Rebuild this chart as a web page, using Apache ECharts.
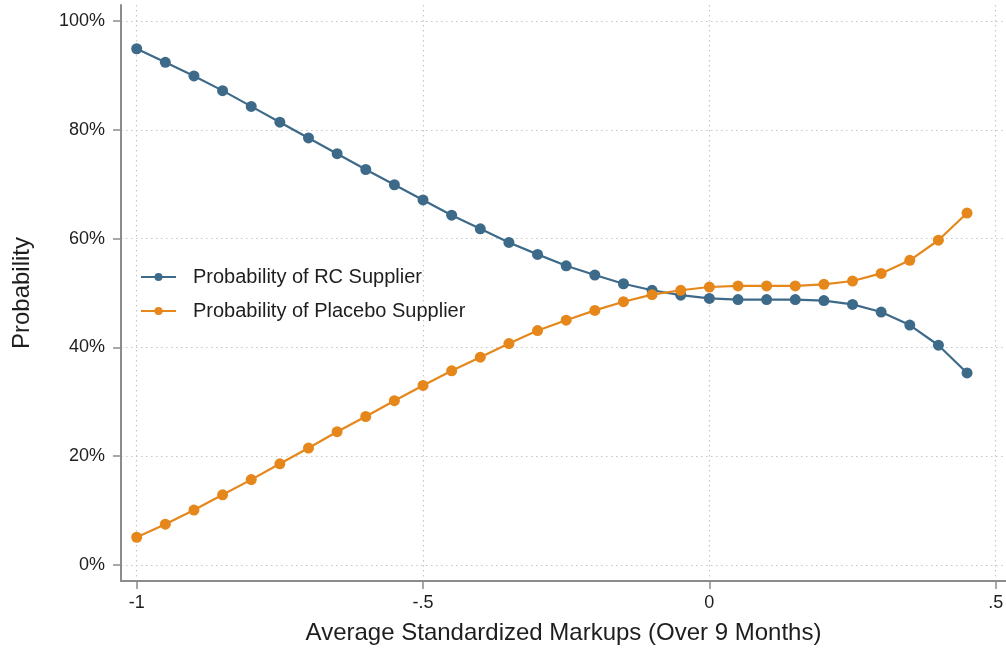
<!DOCTYPE html>
<html>
<head>
<meta charset="utf-8">
<script src="https://cdn.jsdelivr.net/npm/echarts@6/dist/echarts.min.js"></script>
<style>
html,body{margin:0;padding:0;background:#fff;}
#chart{width:1006px;height:656px;}
</style>
</head>
<body>
<div id="chart"></div>
<script>
// x values: average standardized markups
var xValues = [-1, -0.95, -0.9, -0.85, -0.8, -0.75, -0.7, -0.65, -0.6, -0.55,
               -0.5, -0.45, -0.4, -0.35, -0.3, -0.25, -0.2, -0.15, -0.1, -0.05,
               0, 0.05, 0.1, 0.15, 0.2, 0.25, 0.3, 0.35, 0.4, 0.45];
// Probability of RC Supplier (%)
var rcValues = [94.9, 92.4, 89.9, 87.2, 84.3, 81.4, 78.5, 75.6, 72.7, 69.9,
                67.1, 64.3, 61.8, 59.3, 57.1, 55.0, 53.3, 51.7, 50.5, 49.6,
                49.0, 48.8, 48.8, 48.8, 48.6, 47.9, 46.5, 44.1, 40.4, 35.3];
// Probability of Placebo Supplier (%)
var placeboValues = [5.1, 7.5, 10.1, 12.9, 15.7, 18.6, 21.5, 24.5, 27.3, 30.2,
                     33.0, 35.7, 38.2, 40.7, 43.1, 45.0, 46.8, 48.4, 49.7, 50.5,
                     51.1, 51.3, 51.3, 51.3, 51.6, 52.2, 53.6, 56.0, 59.7, 64.7];
var seriesNames = ['Probability of RC Supplier', 'Probability of Placebo Supplier'];
var xTickValues = [-1, -0.5, 0, 0.5];
var xTickLabels = ['-1', '-.5', '0', '.5'];
var yTickValues = [0, 20, 40, 60, 80, 100];
var yTickLabels = ['0%', '20%', '40%', '60%', '80%', '100%'];

function pairs(xs, ys) { return xs.map(function (x, i) { return [x, ys[i]]; }); }
function lookup(vals, labels) {
  return function (v) {
    for (var i = 0; i < vals.length; i++) { if (Math.abs(vals[i] - v) < 1e-6) return labels[i]; }
    return '';
  };
}

var FONT = '"Liberation Sans", Arial, Helvetica, sans-serif';
var TEXT = '#1e1e1e';
var chart = echarts.init(document.getElementById('chart'), null, {renderer: 'canvas'});
chart.setOption({
  animation: false,
  backgroundColor: '#ffffff',
  textStyle: {fontFamily: FONT},
  grid: {left: 121, right: 0, top: 5, bottom: 75, containLabel: false, outerBoundsMode: 'none'},
  legend: {
    orient: 'vertical',
    left: 140,
    top: 267,
    padding: 0,
    itemWidth: 35,
    itemHeight: 10,
    itemGap: 14,
    data: seriesNames,
    textStyle: {fontFamily: FONT, fontSize: 20, color: TEXT, padding: [0, 0, 0, 12], lineHeight: 20}
  },
  xAxis: {
    type: 'value',
    min: -1.0274,
    max: 0.518,
    name: 'Average Standardized Markups (Over 9 Months)',
    nameLocation: 'middle',
    nameGap: 40,
    nameTextStyle: {fontFamily: FONT, fontSize: 24, color: TEXT},
    axisLine: {show: true, onZero: false, lineStyle: {color: '#8c8c8c', width: 2}},
    axisTick: {show: true, length: 8, customValues: xTickValues, lineStyle: {color: '#8c8c8c', width: 1.5}},
    axisLabel: {customValues: xTickValues, formatter: lookup(xTickValues, xTickLabels), fontFamily: FONT, fontSize: 18, color: TEXT, margin: 13, showMinLabel: true, showMaxLabel: true},
    splitLine: {show: true, lineStyle: {color: '#c6c6c6', type: [1.5, 3.5], width: 1.2}}
  },
  yAxis: {
    type: 'value',
    min: -2.94,
    max: 102.94,
    name: 'Probability',
    nameLocation: 'middle',
    nameGap: 87,
    nameTextStyle: {fontFamily: FONT, fontSize: 24, color: TEXT},
    axisLine: {show: true, onZero: false, lineStyle: {color: '#8c8c8c', width: 2}},
    axisTick: {show: true, length: 8, customValues: yTickValues, lineStyle: {color: '#8c8c8c', width: 1.5}},
    axisLabel: {customValues: yTickValues, formatter: lookup(yTickValues, yTickLabels), fontFamily: FONT, fontSize: 18, color: TEXT, margin: 16, showMinLabel: true, showMaxLabel: true},
    splitLine: {show: true, lineStyle: {color: '#c6c6c6', type: [1.5, 3.5], width: 1.2}}
  },
  series: [
    {
      name: seriesNames[0],
      type: 'line',
      data: pairs(xValues, rcValues),
      symbol: 'circle',
      symbolSize: 11,
      color: '#3e6a8a',
      lineStyle: {width: 2.2, color: '#3e6a8a'},
      itemStyle: {color: '#3e6a8a'}
    },
    {
      name: seriesNames[1],
      type: 'line',
      data: pairs(xValues, placeboValues),
      symbol: 'circle',
      symbolSize: 11,
      color: '#e5871b',
      lineStyle: {width: 2.2, color: '#e5871b'},
      itemStyle: {color: '#e5871b'}
    }
  ]
});
</script>
</body>
</html>
